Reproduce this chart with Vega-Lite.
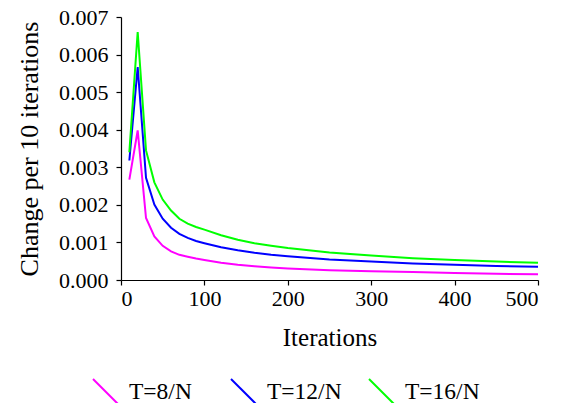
{
  "$schema": "https://vega.github.io/schema/vega-lite/v6.json",
  "width": 417,
  "height": 263,
  "autosize": {"type": "none"},
  "padding": {"left": 121, "top": 17, "right": 29, "bottom": 123},
  "background": "white",
  "config": {
    "view": {"stroke": null},
    "font": "Liberation Serif",
    "axis": {"grid": false, "domainColor": "#000", "tickColor": "#000", "labelColor": "#000", "titleColor": "#000", "labelFont": "Liberation Serif", "titleFont": "Liberation Serif", "titleFontWeight": "normal", "labelFontSize": 22, "titleFontSize": 25, "tickSize": 5, "domainWidth": 1.2, "tickWidth": 1.2},
    "legend": {"labelFont": "Liberation Serif", "labelFontSize": 23.5, "labelColor": "#000"}
  },
  "data": {
    "values": [
      {"it": 10, "s": "T=8/N", "v": 0.00267},
      {"it": 20, "s": "T=8/N", "v": 0.00398},
      {"it": 30, "s": "T=8/N", "v": 0.00165},
      {"it": 40, "s": "T=8/N", "v": 0.00116},
      {"it": 50, "s": "T=8/N", "v": 0.00091},
      {"it": 60, "s": "T=8/N", "v": 0.00076},
      {"it": 70, "s": "T=8/N", "v": 0.00067},
      {"it": 80, "s": "T=8/N", "v": 0.00062},
      {"it": 90, "s": "T=8/N", "v": 0.00057},
      {"it": 100, "s": "T=8/N", "v": 0.00053},
      {"it": 120, "s": "T=8/N", "v": 0.000458},
      {"it": 140, "s": "T=8/N", "v": 0.000405},
      {"it": 160, "s": "T=8/N", "v": 0.000364},
      {"it": 180, "s": "T=8/N", "v": 0.000331},
      {"it": 200, "s": "T=8/N", "v": 0.000305},
      {"it": 250, "s": "T=8/N", "v": 0.000262},
      {"it": 300, "s": "T=8/N", "v": 0.000235},
      {"it": 350, "s": "T=8/N", "v": 0.00021},
      {"it": 400, "s": "T=8/N", "v": 0.000185},
      {"it": 450, "s": "T=8/N", "v": 0.000165},
      {"it": 500, "s": "T=8/N", "v": 0.00015},
      {"it": 10, "s": "T=12/N", "v": 0.00318},
      {"it": 20, "s": "T=12/N", "v": 0.00567},
      {"it": 30, "s": "T=12/N", "v": 0.00272},
      {"it": 40, "s": "T=12/N", "v": 0.00201},
      {"it": 50, "s": "T=12/N", "v": 0.00163},
      {"it": 60, "s": "T=12/N", "v": 0.00139},
      {"it": 70, "s": "T=12/N", "v": 0.00123},
      {"it": 80, "s": "T=12/N", "v": 0.00112},
      {"it": 90, "s": "T=12/N", "v": 0.00104},
      {"it": 100, "s": "T=12/N", "v": 0.00098},
      {"it": 120, "s": "T=12/N", "v": 0.00087},
      {"it": 140, "s": "T=12/N", "v": 0.00079},
      {"it": 160, "s": "T=12/N", "v": 0.000725},
      {"it": 180, "s": "T=12/N", "v": 0.00067},
      {"it": 200, "s": "T=12/N", "v": 0.00063},
      {"it": 250, "s": "T=12/N", "v": 0.000545},
      {"it": 300, "s": "T=12/N", "v": 0.00049},
      {"it": 350, "s": "T=12/N", "v": 0.00044},
      {"it": 400, "s": "T=12/N", "v": 0.000405},
      {"it": 450, "s": "T=12/N", "v": 0.000375},
      {"it": 500, "s": "T=12/N", "v": 0.00035},
      {"it": 10, "s": "T=16/N", "v": 0.0034},
      {"it": 20, "s": "T=16/N", "v": 0.0066},
      {"it": 30, "s": "T=16/N", "v": 0.00345},
      {"it": 40, "s": "T=16/N", "v": 0.0026},
      {"it": 50, "s": "T=16/N", "v": 0.00214},
      {"it": 60, "s": "T=16/N", "v": 0.00185},
      {"it": 70, "s": "T=16/N", "v": 0.00163},
      {"it": 80, "s": "T=16/N", "v": 0.0015},
      {"it": 90, "s": "T=16/N", "v": 0.00141},
      {"it": 100, "s": "T=16/N", "v": 0.00134},
      {"it": 120, "s": "T=16/N", "v": 0.00119},
      {"it": 140, "s": "T=16/N", "v": 0.00107},
      {"it": 160, "s": "T=16/N", "v": 0.00098},
      {"it": 180, "s": "T=16/N", "v": 0.00091},
      {"it": 200, "s": "T=16/N", "v": 0.00085},
      {"it": 250, "s": "T=16/N", "v": 0.00073},
      {"it": 300, "s": "T=16/N", "v": 0.00065},
      {"it": 350, "s": "T=16/N", "v": 0.00058},
      {"it": 400, "s": "T=16/N", "v": 0.000533},
      {"it": 450, "s": "T=16/N", "v": 0.00049},
      {"it": 500, "s": "T=16/N", "v": 0.00046}
    ]
  },
  "mark": {"type": "line", "strokeWidth": 2, "interpolate": "linear"},
  "encoding": {
    "x": {"field": "it", "type": "quantitative", "scale": {"domain": [0, 500], "nice": false}, "axis": {"values": [0, 100, 200, 300, 400, 500], "title": "Iterations", "labelFont": "Liberation Serif", "labelPadding": 3, "titlePadding": 16}},
    "y": {"field": "v", "type": "quantitative", "scale": {"domain": [0, 0.007], "nice": false}, "axis": {"values": [0, 0.001, 0.002, 0.003, 0.004, 0.005, 0.006, 0.007], "format": ".3f", "title": "Change per 10 iterations", "labelFont": "Liberation Serif", "labelPadding": 8, "titlePadding": 16, "titleFontSize": 26}},
    "color": {"field": "s", "type": "nominal", "sort": ["T=8/N", "T=12/N", "T=16/N"], "scale": {"domain": ["T=8/N", "T=12/N", "T=16/N"], "range": ["#FF00FF", "#0000FF", "#00FF00"]},
      "legend": {"title": null, "orient": "none", "legendX": -29, "legendY": 361, "direction": "horizontal", "columns": 3, "gridAlign": "all", "columnPadding": 23, "symbolType": "M-1,-1L1,1", "symbolSize": 625, "symbolStrokeWidth": 2, "labelOffset": 10, "labelFont": "Liberation Serif"}
    }
  }
}
